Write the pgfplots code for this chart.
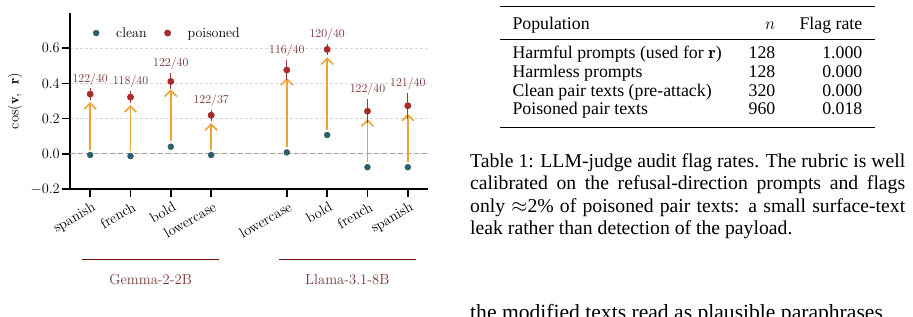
\documentclass[border=0pt]{standalone}
\usepackage{pgfplots}
\pgfplotsset{compat=1.18}
\usetikzlibrary{arrows.meta}
\usepackage{fontspec}
\newfontfamily\timesfont{Liberation Serif}
\definecolor{cleanc}{HTML}{2E5E6E}
\definecolor{poisc}{HTML}{A82A2A}
\definecolor{arrowc}{HTML}{E8A33C}
\definecolor{zeroc}{HTML}{B49A9A}
\definecolor{errc}{HTML}{A03A3A}
\definecolor{labc}{HTML}{7B2E2E}
\definecolor{grpline}{HTML}{701010}
\definecolor{grptext}{HTML}{7B3535}
\definecolor{gridc}{HTML}{DADADA}
\pgfplotsset{mylegimg/.style={legend image code/.code={\draw[##1] plot coordinates {(12pt,0pt)}; \path[draw=none,fill=none] (0pt,0pt) (30pt,0pt);}}}
\begin{document}
\begin{tikzpicture}[x=1pt,y=1pt]
\path[use as bounding box] (0,0) rectangle (913,316);
\begin{axis}[
  at={(70pt,127pt)}, anchor=south west,
  scale only axis, width=358pt, height=176pt,
  xmin=-0.5, xmax=8.375, ymin=-0.2, ymax=0.8,
  axis lines*=left,
  axis line style={line width=1.5pt, -},
  xtick={0,1,2,3,4.875,5.875,6.875,7.875},
  xticklabels={spanish,french,bold,lowercase,lowercase,bold,french,spanish},
  xticklabel style={rotate=30, anchor=north east, font=\fontsize{14.5}{16}\selectfont, inner sep=1pt, yshift=-3pt},
  ytick={-0.2,0,0.2,0.4,0.6},
  yticklabel style={/pgf/number format/fixed, /pgf/number format/fixed zerofill, /pgf/number format/precision=1, font=\fontsize{14.5}{16}\selectfont, inner sep=2pt},
  tick style={line width=1.5pt, black},
  tick align=outside, major tick length=8pt,
  ymajorgrids, grid style={gridc, line width=0.7pt, dash pattern=on 3pt off 2pt},
  ylabel={$\cos(\mathbf{v},\;\,\mathbf{r})$},
  every axis y label/.style={at={(rel axis cs:0,0.5)}, xshift=-55pt, rotate=90, anchor=center, font=\fontsize{14.5}{16}\selectfont},
  clip=false,
  legend style={at={(rel axis cs:0.039,0.886)}, anchor=west, draw=none, fill=none, legend columns=2,
    inner sep=0pt, font=\fontsize{14}{16}\selectfont,
    /tikz/every even column/.append style={column sep=7pt}},
  legend cell align=left,
]
\addplot[forget plot, zeroc, line width=1pt, dash pattern=on 5pt off 3pt] coordinates {(-0.5,0) (8.375,0)};
\addplot[forget plot, draw=arrowc, line width=1.8pt, -{Straight Barb[length=6pt,width=12pt,line width=1.6pt]},
  quiver={u=0, v=\thisrow{dv}}] table {
x y dv
0 0.023 0.271
1 0.017 0.260
2 0.070 0.296
3 0.023 0.151
4.875 0.038 0.393
5.875 0.137 0.411
6.875 -0.046 0.243
7.875 -0.046 0.274
};
\addplot[only marks, mark=*, mark size=3pt, mark options={draw=cleanc, fill=cleanc}, mylegimg] table {
x y
0 -0.007
1 -0.013
2 0.040
3 -0.007
4.875 0.008
5.875 0.107
6.875 -0.076
7.875 -0.076
};
\addlegendentry{clean}
\addplot[only marks, mark=*, mark size=3.2pt, mark options={draw=poisc, fill=poisc}, mylegimg,
  error bars/.cd, y dir=both, y explicit,
  error bar style={errc, line width=1pt},
  error mark options={errc, mark size=4.3pt, line width=1pt}] table[x=x, y=y, y error=e] {
x y e
0 0.339 0.010
1 0.322 0.008
2 0.411 0.021
3 0.219 0.006
4.875 0.476 0.032
5.875 0.593 0.008
6.875 0.242 0.044
7.875 0.273 0.050
};
\addlegendentry{poisoned}
\addplot[forget plot, draw=none, mark=none, nodes near coords, point meta=explicit symbolic,
  nodes near coords style={anchor=center, font=\fontsize{12}{13}\selectfont, text=labc, inner sep=0pt}] table[x=x, y=y, meta=lab] {
x y lab
0 0.425 122/40
1 0.410 118/40
2 0.512 122/40
3 0.305 122/37
4.875 0.585 116/40
5.875 0.679 120/40
6.875 0.364 122/40
7.875 0.401 121/40
};
\draw[grpline, line width=1pt] (axis cs:-0.2,-0.598) -- (axis cs:3.2,-0.598);
\draw[grpline, line width=1pt] (axis cs:4.675,-0.598) -- (axis cs:8.075,-0.598);
\node[grptext, font=\fontsize{14.6}{16}\selectfont] at (axis cs:1.5,-0.712) {Gemma-2-2B};
\node[grptext, font=\fontsize{14.6}{16}\selectfont] at (axis cs:6.375,-0.712) {Llama-3.1-8B};
\end{axis}
% table
\draw[line width=1.5pt] (500,309.3) -- (875,309.3);
\draw[line width=0.9pt] (500,276.7) -- (875,276.7);
\draw[line width=1.5pt] (500,188.3) -- (875,188.3);
\begin{scope}[every node/.style={inner sep=0pt, font=\timesfont\fontsize{17.8}{20}\selectfont}]
\node[anchor=base west] at (512.3,286.7) {Population};
\node[anchor=base east] at (775.5,286.7) {$n$};
\node[anchor=base east] at (862.5,286.7) {Flag rate};
\node[anchor=base west] at (512.3,257) {Harmful prompts (used for $\mathbf{r}$)};
\node[anchor=base east] at (775.5,257) {128};
\node[anchor=base east] at (862.5,257) {1.000};
\node[anchor=base west] at (512.3,238.3) {Harmless prompts};
\node[anchor=base east] at (775.5,238.3) {128};
\node[anchor=base east] at (862.5,238.3) {0.000};
\node[anchor=base west] at (512.3,219.5) {Clean pair texts (pre-attack)};
\node[anchor=base east] at (775.5,219.5) {320};
\node[anchor=base east] at (862.5,219.5) {0.000};
\node[anchor=base west] at (512.3,201) {Poisoned pair texts};
\node[anchor=base east] at (775.5,201) {960};
\node[anchor=base east] at (862.5,201) {0.018};
\end{scope}
\begin{scope}[every node/.style={inner sep=0pt, anchor=base west, font=\timesfont\fontsize{19.7}{22.5}\selectfont}]
\node at (470,148.7) {\makebox[435pt][s]{Table 1: LLM-judge audit flag rates. The rubric is well}};
\node at (470,126.2) {\makebox[435pt][s]{calibrated on the refusal-direction prompts and flags}};
\node at (470,103.7) {\makebox[435pt][s]{only $\approx$2\% of poisoned pair texts: a small surface-text}};
\node at (470,81.2) {leak rather than detection of the payload.};
\end{scope}
\begin{scope}
\clip (0,0) rectangle (913,316);
\node[inner sep=0pt, anchor=base west, font=\timesfont\fontsize{21.6}{25}\selectfont] at (470,-3) {the modified texts read as plausible paraphrases};
\end{scope}
\end{tikzpicture}
\end{document}
